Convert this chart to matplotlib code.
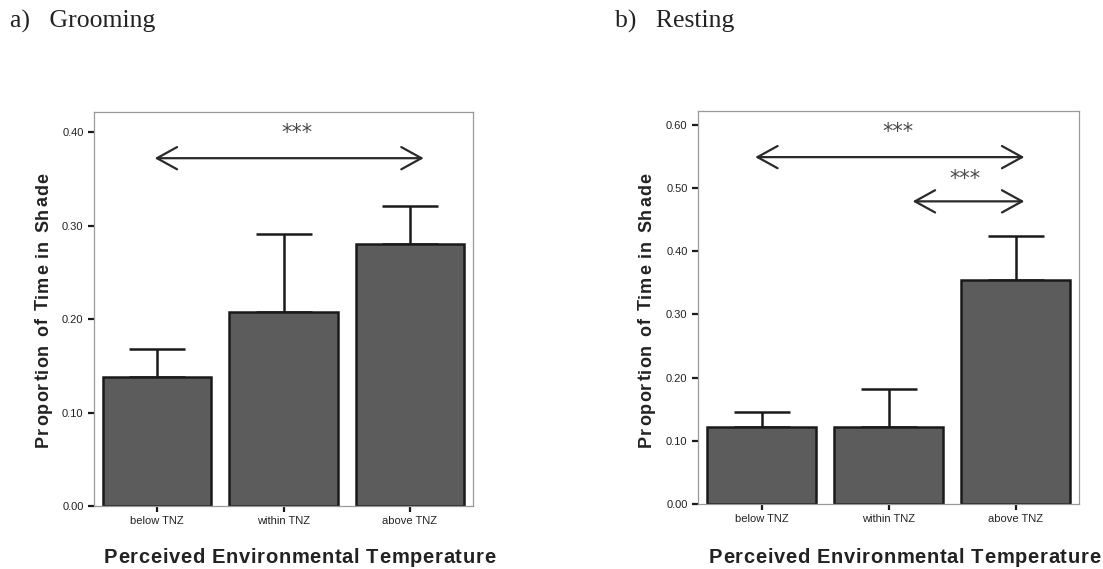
import numpy as np
import matplotlib
matplotlib.use("Agg")
import matplotlib.pyplot as plt

categories = ["below TNZ", "within TNZ", "above TNZ"]

groom_mean = [0.138, 0.207, 0.280]
groom_upper = [0.168, 0.291, 0.321]

rest_mean = [0.122, 0.122, 0.354]
rest_upper = [0.146, 0.182, 0.424]

yticks_a = [0.0, 0.1, 0.2, 0.3, 0.4]
yticks_b = [0.0, 0.1, 0.2, 0.3, 0.4, 0.5, 0.6]

# (start category, end category, y, star x, star y)
groom_sig = [(-0.02, 2.11, 0.372, 1.11, 0.399)]
rest_sig = [(-0.05, 2.07, 0.549, 1.075, 0.589),
            (1.19, 2.07, 0.479, 1.60, 0.515)]

plt.rcParams['font.family'] = ['Liberation Sans', 'DejaVu Sans']

W, H = 1103, 569
fig = plt.figure(figsize=(W / 100, H / 100), dpi=100)
renderer = fig.canvas.get_renderer()


def text_width(s, **kw):
    t = fig.text(0, 0, s, **kw)
    w = t.get_window_extent(renderer).width
    t.remove()
    return w


def char_width(ch, **kw):
    # advance of one char, measured between two bars so spaces count too
    return text_width('|' + ch + '|', **kw) - text_width('||', **kw)


def spaced_text(x0, y0, s, total, vertical=False, **kw):
    # lay out a string char by char, stretched to a total length in pixels
    widths = [char_width(ch, **kw) for ch in s]
    gap = (total - sum(widths)) / (len(s) - 1)
    off = 0.0
    for ch, w in zip(s, widths):
        if vertical:
            fig.text(x0 / W, (y0 + off) / H, ch, rotation=90, ha='left',
                     va='baseline', rotation_mode='anchor', **kw)
        else:
            fig.text((x0 + off) / W, y0 / H, ch, ha='left', va='baseline', **kw)
        off += w + gap


def panel(rect, means, uppers, yticks, ytop, sig):
    ax = fig.add_axes(rect)
    x = np.arange(len(categories))
    ax.bar(x, means, width=0.855, color='#5c5c5c', edgecolor='#1a1a1a',
           linewidth=1.8, zorder=2)
    err = np.array(uppers) - np.array(means)
    ax.errorbar(x, means, yerr=[np.zeros(len(x)), err], fmt='none',
                ecolor='#1a1a1a', elinewidth=1.8, capsize=20, capthick=1.8,
                zorder=1)
    ax.set_xlim(-0.5, 2.5)
    ax.set_ylim(0, ytop)
    ax.set_yticks(yticks)
    ax.set_yticklabels(["%.2f" % v for v in yticks], fontsize=8, color='#222222')
    ax.set_xticks(x)
    ax.set_xticklabels(categories, fontsize=8, color='#222222')
    ax.tick_params(axis='both', length=4.5, width=1.6, color='#1a1a1a', pad=3)
    for s in ax.spines.values():
        s.set_color('#9a9a9a')
        s.set_linewidth(0.9)
    for x0, x1, yy, sx, sy in sig:
        ax.annotate('', xy=(x1, yy), xytext=(x0, yy),
                    arrowprops=dict(arrowstyle='<->,head_length=1.45,head_width=0.8',
                                    color='#2a2a2a', lw=1.6, shrinkA=0, shrinkB=0,
                                    mutation_scale=10))
        ax.text(sx, sy, '***', ha='center', va='center', fontsize=15,
                family='DejaVu Sans', color='#4a4a4a')
    return ax


ax1 = panel([94 / W, 63 / H, 379 / W, 394 / H],
            groom_mean, groom_upper, yticks_a, 0.4214, groom_sig)
ax2 = panel([698 / W, 65 / H, 381 / W, 393 / H],
            rest_mean, rest_upper, yticks_b, 0.622, rest_sig)

# y labels: baseline near x=48 / 651, text from y=447 up to y=173
for xb in [48, 651]:
    spaced_text(xb, H - 447, 'Proportion of Time in Shade', 274, vertical=True,
                fontsize=13, fontweight='bold', color='#222222')

for xs in [104, 709]:
    spaced_text(xs, H - 563, 'Perceived Environmental Temperature', 391,
                fontsize=14.5, fontweight='bold', color='#222222')

fig.text(10 / W, 1 - 28 / H, 'a)   Grooming', family='Liberation Serif',
         fontsize=18.5, ha='left', va='baseline', color='#222222')
fig.text(615 / W, 1 - 28 / H, 'b)   Resting', family='Liberation Serif',
         fontsize=18.5, ha='left', va='baseline', color='#222222')

fig.savefig('out.png', dpi=100)
